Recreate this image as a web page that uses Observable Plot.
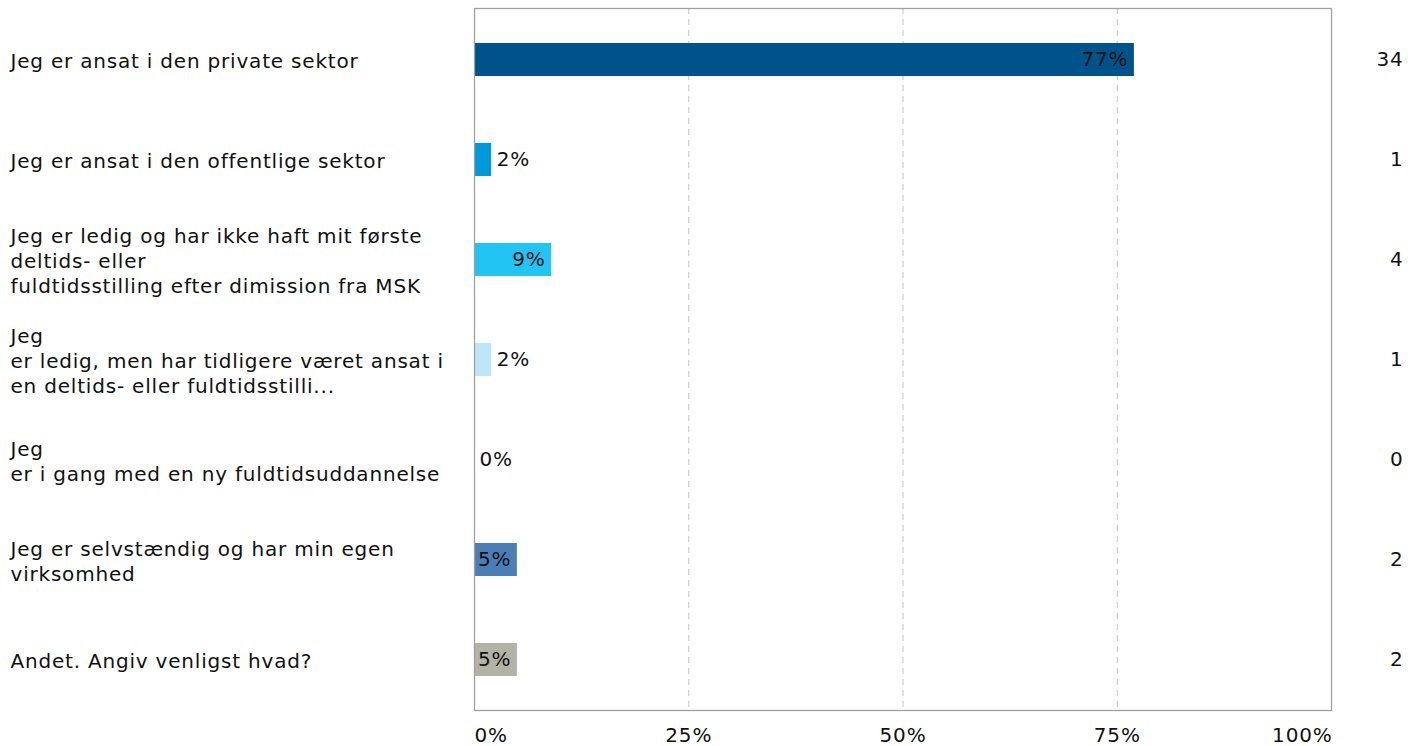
<!DOCTYPE html>
<html>
<head>
<meta charset="utf-8">
<script src="https://cdn.jsdelivr.net/npm/d3@7"></script>
<script src="https://cdn.jsdelivr.net/npm/@observablehq/plot@0.6"></script>
<style>
  html, body { margin: 0; padding: 0; background: #fff; }
  #chart svg text { letter-spacing: 0.8px; }
</style>
</head>
<body>
<div id="chart"></div>
<script>
const categories = [
  "Jeg er ansat i den private sektor",
  "Jeg er ansat i den offentlige sektor",
  "Jeg er ledig og har ikke haft mit første\ndeltids- eller\nfuldtidsstilling efter dimission fra MSK",
  "Jeg\ner ledig, men har tidligere været ansat i\nen deltids- eller fuldtidsstilli...",
  "Jeg\ner i gang med en ny fuldtidsuddannelse",
  "Jeg er selvstændig og har min egen\nvirksomhed",
  "Andet. Angiv venligst hvad?"
];
const percents = [77, 2, 9, 2, 0, 5, 5];
const counts = [34, 1, 4, 1, 0, 2, 2];
const colors = ["#00538a", "#0099da", "#22c4f4", "#bde6f8", "#ffffff", "#4a7eb5", "#b2b3a5"];
const xTicks = [0, 25, 50, 75, 100];

const rows = categories.map((c, i) => ({cat: c, pct: percents[i], n: counts[i], color: colors[i]}));
const FS = 20;

const chart = Plot.plot({
  width: 1420,
  height: 746,
  marginLeft: 474,
  marginRight: 89,
  marginTop: 8,
  marginBottom: 36,
  style: {fontFamily: "DejaVu Sans, Verdana, sans-serif", fontSize: FS + "px", color: "#111", background: "#fff"},
  x: {domain: [0, 100], axis: null},
  y: {domain: categories, paddingInner: 0.67, paddingOuter: 0.335, axis: null},
  marks: [
    Plot.gridX([25, 50, 75], {stroke: "#c4c4c4", strokeOpacity: 1, strokeDasharray: "6,5"}),
    Plot.barX(rows, {y: "cat", x1: 0, x2: "pct", fill: "color"}),
    Plot.frame({stroke: "#a0a0a0", strokeWidth: 1.3}),
    Plot.text(rows.filter(d => d.pct >= 5), {
      y: "cat", x: "pct", text: d => d.pct + "%", textAnchor: "end", dx: -6,
      fill: "#111", fontSize: FS
    }),
    Plot.text(rows.filter(d => d.pct < 5), {
      y: "cat", x: "pct", text: d => d.pct + "%", textAnchor: "start", dx: 5,
      fill: "#111", fontSize: FS
    }),
    Plot.text(rows, {
      y: "cat", text: "cat", frameAnchor: "left", dx: -464, textAnchor: "start",
      lineHeight: 25 / FS, fill: "#111", fontSize: FS
    }),
    Plot.text(rows, {
      y: "cat", text: d => String(d.n), frameAnchor: "right", dx: 72, textAnchor: "end",
      fill: "#111", fontSize: FS
    }),
    Plot.text(xTicks.filter(t => t === 0), {x: d => d, text: d => d + "%", frameAnchor: "bottom", dy: 31, textAnchor: "start", fill: "#111", fontSize: FS}),
    Plot.text(xTicks.filter(t => t > 0 && t < 100), {x: d => d, text: d => d + "%", frameAnchor: "bottom", dy: 31, textAnchor: "middle", fill: "#111", fontSize: FS}),
    Plot.text(xTicks.filter(t => t === 100), {x: d => d, text: d => d + "%", frameAnchor: "bottom", dy: 31, textAnchor: "end", dx: 1, fill: "#111", fontSize: FS})
  ]
});
document.getElementById("chart").appendChild(chart);
</script>
</body>
</html>
